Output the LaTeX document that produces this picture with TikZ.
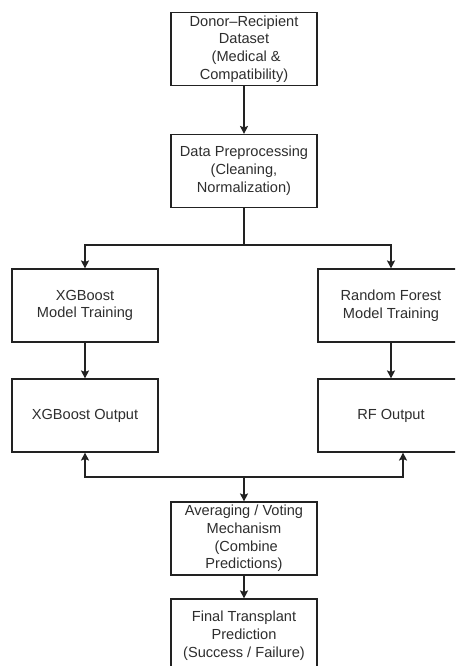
\documentclass[tikz,border=0pt]{standalone}
\usepackage{fontspec}
\setmainfont{Liberation Sans}
\usetikzlibrary{arrows.meta,calc}
\definecolor{ink}{HTML}{222222}
\definecolor{txt}{HTML}{2E2E2E}
\begin{document}
\begin{tikzpicture}[x=1pt,y=1pt,
  box/.style={draw=ink, line width=1.1pt, fill=white, rectangle,
    minimum width=146pt, minimum height=73pt, inner sep=0pt,
    align=center, text=txt,
    font=\fontsize{14.6pt}{17.8pt}\selectfont},
  link/.style={draw=ink, line width=1.1pt},
  arr/.style={link, -{Stealth[length=8pt,width=8pt,inset=1.5pt]}}]
\useasboundingbox (0,0) rectangle (455,-666);
\clip (0,0) rectangle (455,-666);

% boxes
\node[box] (data)  at (244,-49)    {Donor–Recipient\\Dataset\\\hspace*{0.3em}(Medical \&\\Compatibility)};
\node[box] (prep)  at (244,-171)   {Data Preprocessing\\(Cleaning,\\Normalization)};
\node[box] (xgbt)  at (85,-305.5)  {XGBoost\\Model Training};
\node[box] (rft)   at (391,-305.5) {Random Forest\\Model Training};
\node[box] (xgbo)  at (85,-415.5)  {XGBoost Output};
\node[box] (rfo)   at (391,-415.5) {RF Output};
\node[box] (avg)   at (244,-538.5) {Averaging / Voting\\Mechanism\\\hspace*{0.3em}(Combine\\Predictions)};
\node[box] (final) at (244,-635.5) {Final Transplant\\Prediction\\(Success / Failure)};

% junction points
\coordinate (split) at (244,-245);
\coordinate (merge) at (244,-477);
\coordinate (rfin)  at ($(rfo.south)+(12,0)$);

% connectors
\draw[arr] (data) -- (prep);
\draw[link] (prep) -- (split);
\draw[arr] (split) -| (xgbt.north);
\draw[arr] (split) -| (rft.north);
\draw[arr] (xgbt) -- (xgbo);
\draw[arr] (rft) -- (rfo);
\draw[arr] (merge) -| (xgbo.south);
\draw[arr] (merge) -| (rfin);
\draw[arr] (merge) -- (avg.north);
\draw[arr] (avg) -- (final);
\end{tikzpicture}
\end{document}
